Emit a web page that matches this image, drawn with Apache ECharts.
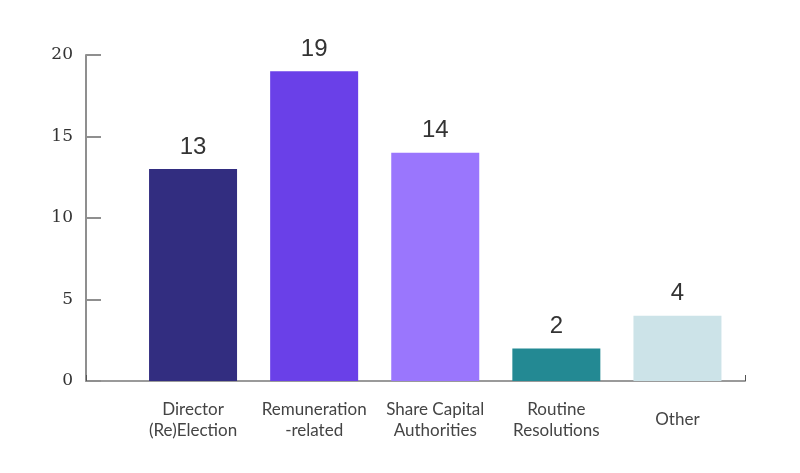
<!DOCTYPE html>
<html>
<head>
<meta charset="utf-8">
<script src="https://cdn.jsdelivr.net/npm/echarts@6/dist/echarts.min.js"></script>
<style>
  html, body { margin: 0; padding: 0; background: #fff; }
  #chart { width: 800px; height: 473px; }
</style>
</head>
<body>
<div id="chart"></div>
<script>
// resolution categories and counts
const categories = ["Director\n(Re)Election", "Remuneration\n-related", "Share Capital\nAuthorities", "Routine\nResolutions", "Other"];
const counts = [13, 19, 14, 2, 4];
const barColors = ["#322d80", "#6a40e8", "#9a76fd", "#238993", "#cce3e8"];
const yTicks = [0, 5, 10, 15, 20];

const chart = echarts.init(document.getElementById("chart"));
chart.setOption({
  animation: false,
  grid: [
    // frame grid: carries the y axis and the long baseline
    { left: 86, right: 55, top: 55, bottom: 92 },
    // bar grid: narrower so the bars sit where the original puts them
    { left: 132.5, right: 62, top: 55, bottom: 92 }
  ],
  xAxis: [
    {
      gridIndex: 0,
      type: "value",
      min: 0,
      max: 1,
      interval: 1,
      axisLine: { show: true, lineStyle: { color: "#9a9a9a", width: 2 } },
      axisTick: { show: true, inside: true, length: 6, lineStyle: { color: "#555", width: 1 } },
      axisLabel: { show: false },
      splitLine: { show: false }
    },
    {
      gridIndex: 1,
      type: "category",
      data: categories,
      axisLine: { show: false },
      axisTick: { show: false },
      axisLabel: {
        interval: 0,
        hideOverlap: false,
        margin: 39,
        verticalAlign: "middle",
        fontFamily: "Lato",
        fontSize: 17,
        lineHeight: 21,
        color: "#444"
      }
    }
  ],
  yAxis: [
    {
      gridIndex: 0,
      type: "value",
      min: yTicks[0],
      max: yTicks[yTicks.length - 1],
      interval: 5,
      axisLine: { show: true, lineStyle: { color: "#8f8f8f", width: 2 } },
      axisTick: { show: true, inside: true, length: 15, lineStyle: { color: "#8f8f8f", width: 2 } },
      axisLabel: {
        margin: 13,
        fontFamily: "DejaVu Serif",
        fontSize: 17,
        color: "#333"
      },
      splitLine: { show: false }
    },
    {
      gridIndex: 1,
      type: "value",
      min: yTicks[0],
      max: yTicks[yTicks.length - 1],
      show: false
    }
  ],
  series: [
    {
      type: "bar",
      xAxisIndex: 1,
      yAxisIndex: 1,
      barWidth: 88,
      data: counts.map((v, i) => ({ value: v, itemStyle: { color: barColors[i] } })),
      label: {
        show: true,
        position: "top",
        distance: 10,
        fontFamily: "Liberation Sans",
        fontSize: 24,
        color: "#333"
      }
    }
  ]
});
</script>
</body>
</html>
